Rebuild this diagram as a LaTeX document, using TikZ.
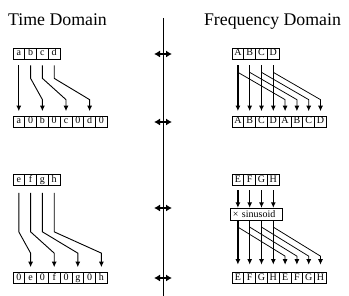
\documentclass[tikz,border=0pt]{standalone}
\usepackage{fontspec}
\setmainfont{Liberation Serif}
\usetikzlibrary{arrows.meta,positioning,calc}

\begin{document}
\begin{tikzpicture}[
  x=1pt,y=1pt,
  cell/.style={draw,line width=.7pt,minimum width=11.8pt,minimum height=11pt,inner sep=0pt,text height=7pt,text depth=2pt,font=\fontsize{10}{12}\selectfont},
  title/.style={anchor=base,font=\fontsize{17.8}{20}\selectfont},
  arr/.style={-{Latex[length=5.5pt,width=5pt]},line width=#1},
  arr/.default=.75pt,
  dbl/.style={{Latex[length=6pt,width=7pt]}-{Latex[length=6pt,width=7pt]},line width=2pt}
]
\useasboundingbox (0,0) rectangle (349,296);
\node[title] (thead) at (57.5,270.5) {Time Domain};
\node[title] (fhead) at (272.5,270.5) {Frequency Domain};
% axis between the two domains
\coordinate (top) at (163,278);
\coordinate (bot) at (163,0);
\draw[line width=.9pt] (top) -- (bot);
\foreach \y [count=\i] in {242,174,88,18}{
  \coordinate (ax\i) at (163,\y);
  \draw[dbl] ([xshift=-9pt]ax\i) -- ([xshift=9pt]ax\i);
}
% time domain
\foreach \t [count=\i] in {a,b,c,d} \node[cell] (tin1-\i) at ({7+11.8*\i},242.5) {\t};
\foreach \t [count=\i] in {a,0,b,0,c,0,d,0} \node[cell] (tout1-\i) at ({7+11.8*\i},174.5) {\t};
\foreach \t [count=\i] in {e,f,g,h} \node[cell] (tin2-\i) at ({7+11.8*\i},116) {\t};
\foreach \t [count=\i] in {0,e,0,f,0,g,0,h} \node[cell] (tout2-\i) at ({7+11.8*\i},18) {\t};
\foreach \k [evaluate=\k as \j using int(2*\k-1)] in {1,...,4}
  \draw[arr=.9pt,shorten <=6pt,shorten >=4.5pt] (tin1-\k.south) -- ([yshift=-19pt]tin1-\k.south) -- ([yshift=16pt]tout1-\j.north) -- (tout1-\j.north);
\foreach \k [evaluate=\k as \j using int(2*\k)] in {1,...,4}
  \draw[arr=.9pt,shorten <=7pt,shorten >=5pt] (tin2-\k.south) -- ([yshift=-46pt]tin2-\k.south) -- ([yshift=19pt]tout2-\j.north) -- (tout2-\j.north);
% frequency domain
\foreach \t [count=\i] in {A,B,C,D} \node[cell] (fin1-\i) at ({226.1+11.8*\i},242.5) {\t};
\foreach \t [count=\i] in {A,B,C,D,A,B,C,D} \node[cell] (fout1-\i) at ({226.1+11.8*\i},174.5) {\t};
\foreach \t [count=\i] in {E,F,G,H} \node[cell] (fin2-\i) at ({226.1+11.8*\i},116) {\t};
\foreach \t [count=\i] in {E,F,G,H,E,F,G,H} \node[cell] (fout2-\i) at ({226.1+11.8*\i},18) {\t};
\node[draw,line width=.7pt,minimum height=12.5pt,inner xsep=3pt,inner ysep=0pt,text width=46pt,align=left,font=\fontsize{10}{12}\selectfont] (mult) at (256,81.5) {× sinusoid};
\foreach \k [evaluate=\k as \j using int(\k+4)] in {1,...,4}{
  \draw[arr=1.2pt,shorten <=6pt,shorten >=4.5pt] (fin1-\k.south) -- (fout1-\k.north);
  \draw[arr,shorten >=4.5pt] ([yshift=-13pt]fin1-\k.south) -- ([yshift=16pt]fout1-\j.north) -- (fout1-\j.north);
  \draw[arr=1.2pt,shorten <=4.5pt] (fin2-\k.south) -- (fin2-\k.south |- mult.north);
  \draw[arr=1.2pt,shorten >=7.5pt] (fout2-\k.north |- mult.south) -- (fout2-\k.north);
  \draw[arr,shorten >=7.5pt] ($(fout2-\k.north |- mult.south)+(0,-6)$) -- ([yshift=16pt]fout2-\j.north) -- (fout2-\j.north);
}
\end{tikzpicture}
\end{document}
